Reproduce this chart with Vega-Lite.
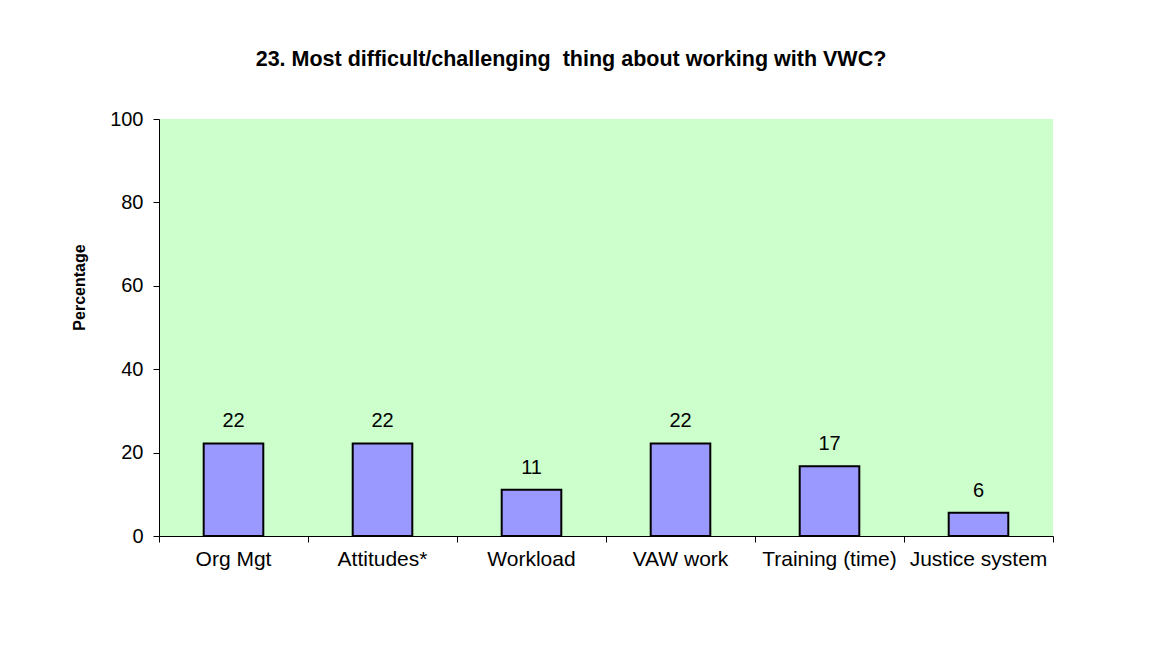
{
  "$schema": "https://vega.github.io/schema/vega-lite/v6.json",
  "width": 894,
  "height": 417,
  "autosize": {"type": "none"},
  "padding": {"left": 159, "top": 119, "right": 102, "bottom": 128},
  "background": "white",
  "title": {
    "text": "23. Most difficult/challenging\u00a0 thing about working with VWC?",
    "font": "Liberation Sans",
    "fontSize": 21.5,
    "fontWeight": "bold",
    "color": "#000000",
    "anchor": "middle",
    "dx": -35,
    "offset": 39
  },
  "config": {
    "view": {"fill": "#CCFFCC", "stroke": null},
    "font": "Liberation Sans"
  },
  "data": {
    "values": [
      {"category": "Org Mgt", "value": 22.2, "label": "22"},
      {"category": "Attitudes*", "value": 22.2, "label": "22"},
      {"category": "Workload", "value": 11.1, "label": "11"},
      {"category": "VAW work", "value": 22.2, "label": "22"},
      {"category": "Training (time)", "value": 16.7, "label": "17"},
      {"category": "Justice system", "value": 5.6, "label": "6"}
    ]
  },
  "encoding": {
    "x": {
      "field": "category",
      "type": "nominal",
      "sort": null,
      "scale": {"paddingInner": 0, "paddingOuter": 0},
      "axis": {
        "title": null,
        "labelAngle": 0,
        "labelFont": "Liberation Sans",
        "labelFontSize": 21,
        "labelColor": "#000000",
        "labelPadding": 6,
        "bandPosition": 1,
        "tickExtra": true,
        "domainColor": "#000000",
        "tickColor": "#000000",
        "tickSize": 6,
        "grid": false
      }
    },
    "y": {
      "field": "value",
      "type": "quantitative",
      "scale": {"domain": [0, 100], "nice": false},
      "axis": {
        "title": "Percentage",
        "titleFont": "Liberation Sans",
        "titleFontSize": 16,
        "titleFontWeight": "bold",
        "titleColor": "#000000",
        "titlePadding": 22,
        "titleY": 168,
        "values": [0, 20, 40, 60, 80, 100],
        "labelFont": "Liberation Sans",
        "labelFontSize": 20,
        "labelColor": "#000000",
        "labelPadding": 10,
        "domainColor": "#000000",
        "tickColor": "#000000",
        "tickSize": 6,
        "grid": false
      }
    }
  },
  "layer": [
    {
      "mark": {
        "type": "bar",
        "width": {"band": 0.4},
        "fill": "#9999FF",
        "stroke": "#000000",
        "strokeWidth": 2
      }
    },
    {
      "mark": {
        "type": "text",
        "baseline": "alphabetic",
        "dy": -16,
        "font": "Liberation Sans",
        "fontSize": 20,
        "color": "#000000"
      },
      "encoding": {"text": {"field": "label"}}
    }
  ]
}
